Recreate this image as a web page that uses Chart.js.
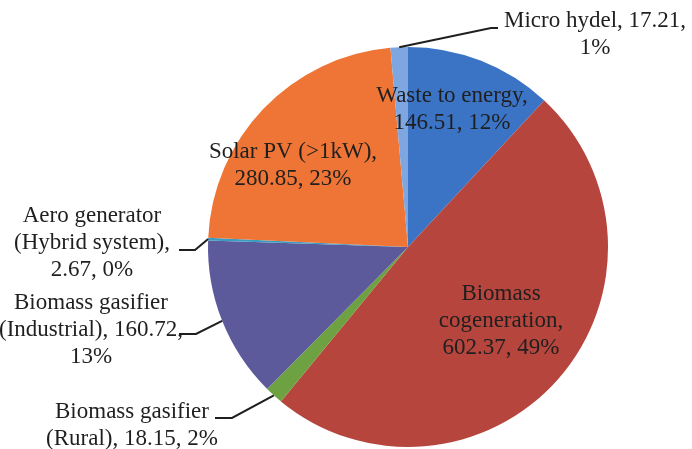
<!DOCTYPE html>
<html>
<head>
<meta charset="utf-8">
<script src="https://cdn.jsdelivr.net/npm/chart.js@4"></script>
<style>
  body { margin: 0; background: #fff; }
  canvas { display: block; }
</style>
</head>
<body>
<canvas id="chart" width="692" height="449"></canvas>
<script>
// data, clockwise from 12 o'clock
const categories = [
    "Waste to energy",
    "Biomass cogeneration",
    "Biomass gasifier (Rural)",
    "Biomass gasifier (Industrial)",
    "Aero generator (Hybrid system)",
    "Solar PV (>1kW)",
    "Micro hydel"
];
const values = [146.51, 602.37, 18.15, 160.72, 2.67, 280.85, 17.21];
const percents = ["12%", "49%", "2%", "13%", "0%", "23%", "1%"];
const colors = ["#3b74c5", "#b5453d", "#6ea142", "#5c5a9b", "#3a9cc0", "#ee7535", "#7ea6e0"];

// label text lines per slice
const labelLines = [
    ["Waste to energy,", values[0] + ", " + percents[0]],
    ["Biomass", "cogeneration,", values[1] + ", " + percents[1]],
    ["Biomass gasifier", "(Rural), " + values[2] + ", " + percents[2]],
    ["Biomass gasifier", "(Industrial), " + values[3] + ",", percents[3]],
    ["Aero generator", "(Hybrid system),", values[4] + ", " + percents[4]],
    ["Solar PV (>1kW),", values[5] + ", " + percents[5]],
    ["Micro hydel, " + values[6] + ",", percents[6]]
];

// label placement (centre x, first baseline y) and leader ends
const labelPos = [
    { x: 452, y: 102 },
    { x: 501, y: 300 },
    { x: 132, y: 418 },
    { x: 91, y: 309 },
    { x: 92, y: 222 },
    { x: 293, y: 158 },
    { x: 595, y: 27 }
];
const leaders = [
    null,
    null,
    { from: [215, 418], elbow: [232, 418] },
    { from: [179, 334], elbow: [196, 334] },
    { from: [179, 250], elbow: [195, 250] },
    null,
    { from: [498, 28], elbow: [491, 28] }
];

const labelPlugin = {
    id: "sliceLabels",
    afterDatasetsDraw(chart) {
        const ctx = chart.ctx;
        const arcs = chart.getDatasetMeta(0).data;
        ctx.save();
        ctx.font = "23px 'Liberation Serif', 'Times New Roman', serif";
        ctx.fillStyle = "#1f1f1f";
        ctx.textAlign = "center";
        ctx.textBaseline = "alphabetic";
        labelLines.forEach((lines, i) => {
            const p = labelPos[i];
            lines.forEach((t, j) => ctx.fillText(t, p.x, p.y + j * 27));
        });
        ctx.strokeStyle = "#1f1f1f";
        ctx.lineWidth = 2;
        leaders.forEach((l, i) => {
            if (!l) return;
            const a = arcs[i];
            const mid = (a.startAngle + a.endAngle) / 2;
            const ex = a.x + Math.cos(mid) * a.outerRadius;
            const ey = a.y + Math.sin(mid) * a.outerRadius;
            ctx.beginPath();
            ctx.moveTo(l.from[0], l.from[1]);
            ctx.lineTo(l.elbow[0], l.elbow[1]);
            ctx.lineTo(ex, ey);
            ctx.stroke();
        });
        ctx.restore();
    }
};

new Chart(document.getElementById("chart"), {
    type: "pie",
    data: {
        labels: categories,
        datasets: [{
            data: values,
            backgroundColor: colors,
            borderWidth: 0
        }]
    },
    options: {
        responsive: false,
        animation: false,
        layout: { padding: { left: 208, right: 84, top: 47, bottom: 2 } },
        plugins: {
            legend: { display: false },
            tooltip: { enabled: false }
        }
    },
    plugins: [labelPlugin]
});
</script>
</body>
</html>
